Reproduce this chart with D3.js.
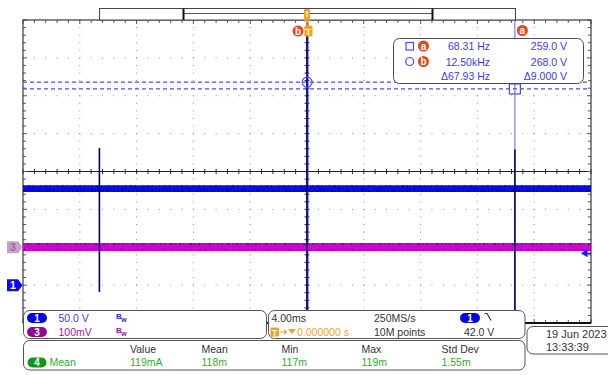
<!DOCTYPE html>
<html><head><meta charset="utf-8">
<script src="https://cdn.jsdelivr.net/npm/d3@7"></script>
<style>body{margin:0;background:#fff}svg{display:block}text{font-family:"Liberation Sans",Arial,sans-serif}</style>
</head><body><svg id="c" width="608" height="375"></svg>
<script>
// ---------------- data ----------------
const timeDomainMs = [-20, 20];          // 4.00 ms/div, 10 divisions
const ch1VoltDomain = [-50, 350];        // 50.0 V/div, ground 3 div below centre
const ch3mVDomain = [-200, 600];         // 100 mV/div, ground 2 div below centre
const ch1Times = [-20, 20];
const ch1Lo = [123, 123];
const ch1Hi = [132, 132];
const ch1SpikeTimes = [-14.62, 0.0, 14.64];
const ch1SpikeHi = [181, 340, 179];
const ch1SpikeLo = [-9, -60, -60];
const ch3Times = [-20, 20];
const ch3Lo = [-10, -10];
const ch3Hi = [11, 11];
const cursorNames = ["a", "b"];
const cursorTimes = [14.64, 0.08];
const cursorVolts = [259, 268];
const cursorFreqLabels = ["68.31 Hz", "12.50kHz", "\u039467.93 Hz"];
const cursorVoltLabels = ["259.0 V", "268.0 V", "\u03949.000 V"];
const triggerLevelV = 42.0;
const chScaleLabels = ["50.0 V", "100mV"];
const timebaseLabels = ["4.00ms", "250MS/s", "10M points", "42.0 V", "0.000000 s"];
const measHeaders = ["Value", "Mean", "Min", "Max", "Std Dev"];
const measValues = ["119mA", "118m", "117m", "119m", "1.55m"];
const dateLabels = ["19 Jun  2023", "13:33:39"];

// ---------------- layout ----------------
const svg = d3.select("#c");
const L = 23, R = 591, T = 20, B = 323;
const divX = (R - L) / 10, divY = (B - T) / 8;
const x = d3.scaleLinear().domain(timeDomainMs).range([L, R]);
const y1 = d3.scaleLinear().domain(ch1VoltDomain).range([B, T]);
const y3 = d3.scaleLinear().domain(ch3mVDomain).range([B, T]);
const BLUE_TXT = "#3b3bf0", RED = "#e8451c", ORANGE = "#f3a21f", GREEN = "#2fae2f";

// grid dots
const gDots = svg.append("g").attr("fill", "#8c8c8c");
for (let i = 1; i < 10; i++) {
  if (i === 5) continue;
  for (let k = 0; k <= 40; k++) gDots.append("rect").attr("x", L + i * divX - 0.5).attr("y", T + k * divY / 5 - 0.5).attr("width", 1).attr("height", 1);
}
for (let j = 1; j < 8; j++) {
  if (j === 4) continue;
  for (let k = 0; k <= 50; k++) gDots.append("rect").attr("x", L + k * divX / 5 - 0.5).attr("y", T + j * divY - 0.5).attr("width", 1).attr("height", 1);
}
// centre cross with ticks
const gC = svg.append("g").attr("stroke", "#222").attr("stroke-width", 1);
const cy = T + 4 * divY, cx = L + 5 * divX;
gC.append("line").attr("x1", L).attr("x2", R).attr("y1", cy).attr("y2", cy);
gC.append("line").attr("x1", cx).attr("x2", cx).attr("y1", T).attr("y2", B);
for (let k = 0; k <= 50; k++) gC.append("line").attr("x1", L + k * divX / 5).attr("x2", L + k * divX / 5).attr("y1", cy - 2.5).attr("y2", cy + 2.5);
for (let k = 0; k <= 40; k++) gC.append("line").attr("y1", T + k * divY / 5).attr("y2", T + k * divY / 5).attr("x1", cx - 2.5).attr("x2", cx + 2.5);
// border ticks
const gB = svg.append("g").attr("stroke", "#555").attr("stroke-width", 1);
for (let k = 0; k <= 50; k++) {
  const xx = L + k * divX / 5, len = k % 5 === 0 ? 4 : 3;
  gB.append("line").attr("x1", xx).attr("x2", xx).attr("y1", T).attr("y2", T + len);
  gB.append("line").attr("x1", xx).attr("x2", xx).attr("y1", B).attr("y2", B - len);
}
for (let k = 0; k <= 40; k++) {
  const yy = T + k * divY / 5, len = k % 5 === 0 ? 4 : 3;
  gB.append("line").attr("y1", yy).attr("y2", yy).attr("x1", L).attr("x2", L + len);
  gB.append("line").attr("y1", yy).attr("y2", yy).attr("x1", R).attr("x2", R - len);
}
svg.append("rect").attr("x", L).attr("y", T).attr("width", R - L).attr("height", B - T).attr("fill", "none").attr("stroke", "#3a3a3a").attr("stroke-width", 1.2);
svg.append("line").attr("x1", L).attr("x2", R).attr("y1", B).attr("y2", B).attr("stroke", "#111").attr("stroke-width", 2);

// cursor horizontal dashed lines
cursorVolts.forEach(v => {
  svg.append("line").attr("x1", L).attr("x2", R).attr("y1", y1(v)).attr("y2", y1(v))
    .attr("stroke", "#4a4aff").attr("stroke-width", 1.3).attr("stroke-dasharray", "4,3");
});
// cursor vertical lines
cursorTimes.forEach(t => {
  svg.append("line").attr("x1", x(t)).attr("x2", x(t)).attr("y1", T).attr("y2", B).attr("stroke", "#5c5cff").attr("stroke-width", 1);
});

// channel 3 trace
const idx3 = d3.range(ch3Times.length);
svg.append("path").datum(idx3).attr("fill", "#d200d2")
  .attr("d", d3.area().x(i => x(ch3Times[i])).y0(i => y3(ch3Lo[i])).y1(i => y3(ch3Hi[i])));
[ch3Lo, ch3Hi].forEach((arr, n) => {
  svg.append("path").datum(idx3).attr("fill", "none").attr("stroke", "#5a0a5a").attr("stroke-width", 1.1)
    .attr("stroke-dasharray", n ? "1,3,2,2,1,5,3,2" : "2,4,1,2,1,3,3,5")
    .attr("d", d3.line().x(i => x(ch3Times[i])).y(i => y3(arr[i]) + (n ? 1 : -1)));
});

// channel 1 trace
const idx1 = d3.range(ch1Times.length);
svg.append("path").datum(idx1).attr("fill", "#0a0aee")
  .attr("d", d3.area().x(i => x(ch1Times[i])).y0(i => y1(ch1Lo[i])).y1(i => y1(ch1Hi[i])));
[ch1Lo, ch1Hi].forEach((arr, n) => {
  svg.append("path").datum(idx1).attr("fill", "none").attr("stroke", "#00007a").attr("stroke-width", 1.2)
    .attr("stroke-dasharray", n ? "1,4,2,3,1,6" : "2,2,1,3,3,1,1,2")
    .attr("d", d3.line().x(i => x(ch1Times[i])).y(i => y1(arr[i]) + (n ? 1 : -1)));
});
svg.append("g").selectAll("line").data(d3.range(ch1SpikeTimes.length)).join("line")
  .attr("x1", i => x(ch1SpikeTimes[i])).attr("x2", i => x(ch1SpikeTimes[i]))
  .attr("y1", i => Math.max(T, y1(ch1SpikeHi[i]))).attr("y2", i => Math.min(B, y1(ch1SpikeLo[i])))
  .attr("stroke", "#00006e").attr("stroke-width", 1.6);

// cursor markers on trace
const ca = [x(cursorTimes[0]), y1(cursorVolts[0])], cb = [x(cursorTimes[1]), y1(cursorVolts[1])];
svg.append("rect").attr("x", ca[0] - 5.5).attr("y", ca[1] - 5).attr("width", 11).attr("height", 10).attr("fill", "none").attr("stroke", "#4a4aff").attr("stroke-width", 1.2);
svg.append("circle").attr("cx", cb[0] - 1).attr("cy", cb[1]).attr("r", 5).attr("fill", "none").attr("stroke", "#4a4aff").attr("stroke-width", 1.2);

// trigger level arrow (right edge)
const ty = y1(triggerLevelV);
svg.append("path").attr("d", `M${R - 9},${ty} L${R - 4},${ty - 3} L${R - 4},${ty + 3} Z M${R - 5},${ty} L${R},${ty}`)
  .attr("fill", "#1a1aff").attr("stroke", "#1a1aff").attr("stroke-width", 1.2);

// channel ground markers (left)
function chMarker(yy, fill, tcol, label) {
  svg.append("path").attr("d", `M7,${yy - 6} L18,${yy - 6} L22.5,${yy} L18,${yy + 6} L7,${yy + 6} Z`).attr("fill", fill);
  svg.append("text").attr("x", 13).attr("y", yy + 4).attr("text-anchor", "middle").attr("font-size", 10.5).attr("font-weight", "bold").attr("fill", tcol).text(label);
}
chMarker(y3(0), "#c9a0cb", "#8f7090", "3");
chMarker(y1(0), "#0a0af0", "#fff", "1");

// record overview bar
svg.append("rect").attr("x", 99.5).attr("y", 8.5).attr("width", 416).attr("height", 11.5).attr("fill", "#fff").attr("stroke", "#444").attr("stroke-width", 1);
svg.append("line").attr("x1", 183.5).attr("x2", 432.5).attr("y1", 13.5).attr("y2", 13.5).attr("stroke", "#4545d5").attr("stroke-width", 1.2);
[183.5, 432.5].forEach(xx => svg.append("line").attr("x1", xx).attr("x2", xx).attr("y1", 8.5).attr("y2", 20).attr("stroke", "#111").attr("stroke-width", 2));
const tx = x(0);
svg.append("rect").attr("x", tx - 3).attr("y", 9).attr("width", 6).attr("height", 10).attr("rx", 1).attr("fill", ORANGE);
svg.append("line").attr("x1", tx - 1.5).attr("x2", tx + 1.5).attr("y1", 12).attr("y2", 12).attr("stroke", "#fff").attr("stroke-width", 1);
svg.append("line").attr("x1", tx).attr("x2", tx).attr("y1", 12).attr("y2", 17).attr("stroke", "#fff").attr("stroke-width", 1);
svg.append("path").attr("d", `M${tx - 3},20 L${tx + 3},20 L${tx},24 Z`).attr("fill", ORANGE);
// trigger T marker on graticule
svg.append("rect").attr("x", tx - 2.5).attr("y", 25.5).attr("width", 8).attr("height", 11).attr("rx", 1.5).attr("fill", ORANGE);
svg.append("text").attr("x", tx + 1.5).attr("y", 34.5).attr("text-anchor", "middle").attr("font-size", 9.5).attr("font-weight", "bold").attr("fill", "#fff").text("T");

function badge(cx0, cy0, letter) {
  svg.append("circle").attr("cx", cx0).attr("cy", cy0).attr("r", 5.5).attr("fill", RED);
  svg.append("text").attr("x", cx0).attr("y", cy0 + 3.5).attr("text-anchor", "middle").attr("font-size", 10).attr("font-weight", "bold").attr("fill", "#fff").text(letter);
}
badge(tx - 9, 31, "b");
badge(x(cursorTimes[0]) + 7.5, 30.5, "a");

// cursor readout box
svg.append("rect").attr("x", 393.5).attr("y", 38.5).attr("width", 190).attr("height", 45).attr("rx", 6).attr("fill", "#fff").attr("stroke", "#4a4a4a").attr("stroke-width", 1);
svg.append("rect").attr("x", 406).attr("y", 42.5).attr("width", 7.5).attr("height", 7.5).attr("fill", "none").attr("stroke", "#4a4aff").attr("stroke-width", 1.2);
svg.append("circle").attr("cx", 409.7).attr("cy", 61.5).attr("r", 4).attr("fill", "none").attr("stroke", "#4a4aff").attr("stroke-width", 1.2);
badge(423.5, 46, cursorNames[0]);
badge(423.5, 61.5, cursorNames[1]);
const rowY = [50, 65.5, 79.5];
cursorFreqLabels.forEach((s, i) => svg.append("text").attr("x", 490).attr("y", rowY[i]).attr("text-anchor", "end").attr("font-size", 10.5).attr("fill", BLUE_TXT).text(s));
cursorVoltLabels.forEach((s, i) => svg.append("text").attr("x", 567).attr("y", rowY[i]).attr("text-anchor", "end").attr("font-size", 10.5).attr("fill", BLUE_TXT).text(s));

// bottom panels
function panel(px, py, w, h) {
  svg.append("rect").attr("x", px).attr("y", py).attr("width", w).attr("height", h).attr("rx", 6).attr("fill", "#fff").attr("stroke", "#555").attr("stroke-width", 1);
}
function pill(px, py, fill, label) {
  svg.append("rect").attr("x", px).attr("y", py).attr("width", 20).attr("height", 10).attr("rx", 5).attr("fill", fill);
  svg.append("text").attr("x", px + 10).attr("y", py + 8.8).attr("text-anchor", "middle").attr("font-size", 10).attr("font-weight", "bold").attr("fill", "#fff").text(label);
}
function txt(px, py, s, col, anchor) {
  return svg.append("text").attr("x", px).attr("y", py).attr("font-size", 10.5).attr("fill", col).attr("text-anchor", anchor || "start").text(s);
}
function bw(px, py, col) {
  const t = svg.append("text").attr("x", px).attr("y", py).attr("font-size", 8).attr("font-weight", "bold").attr("fill", col);
  t.append("tspan").text("B");
  t.append("tspan").attr("dx", -0.5).attr("dy", 3).attr("font-size", 7).text("w");
}
panel(23.5, 310.5, 243, 28);
pill(27, 313, "#0505e8", "1");
txt(58.5, 322, chScaleLabels[0], BLUE_TXT);
bw(116, 318.5, "#2b2bdd");
pill(27, 327, "#8e0a8e", "3");
txt(58.5, 336, chScaleLabels[1], "#a020a0");
bw(116, 332.5, "#8e1a8e");

panel(268.5, 310.5, 256.5, 28);
txt(271.5, 322, timebaseLabels[0], "#333");
txt(374, 322, timebaseLabels[1], "#333");
pill(460, 313, "#0505e8", "1");
svg.append("path").attr("d", "M484.5,313.5 L487,313.5 L491,320.5").attr("fill", "none").attr("stroke", "#333").attr("stroke-width", 1.1);
svg.append("rect").attr("x", 270.5).attr("y", 327.5).attr("width", 8.5).attr("height", 9).attr("rx", 1).attr("fill", ORANGE);
svg.append("text").attr("x", 274.7).attr("y", 335.5).attr("text-anchor", "middle").attr("font-size", 8.5).attr("font-weight", "bold").attr("fill", "#fff").text("T");
svg.append("path").attr("d", "M280,332 L286,332 M284,330 L286.5,332 L284,334").attr("fill", "none").attr("stroke", ORANGE).attr("stroke-width", 1.1);
svg.append("path").attr("d", "M288,329 L296,329 L292,334 Z").attr("fill", ORANGE);
txt(297, 336, timebaseLabels[4], ORANGE);
txt(374, 336, timebaseLabels[2], "#333");
txt(464, 336, timebaseLabels[3], "#333");

panel(23.5, 340.5, 501.5, 29.5);
svg.append("rect").attr("x", 27.5).attr("y", 357.5).attr("width", 19).attr("height", 10).attr("rx", 5).attr("fill", "#14951a");
svg.append("text").attr("x", 37).attr("y", 366.3).attr("text-anchor", "middle").attr("font-size", 10).attr("font-weight", "bold").attr("fill", "#fff").text("4");
txt(49.5, 366, "Mean", GREEN);
const measX = [130, 201.5, 281.5, 361.5, 441.5];
measHeaders.forEach((s, i) => txt(measX[i], 353, s, "#333"));
measValues.forEach((s, i) => txt(measX[i], 366, s, GREEN));

panel(527, 326.5, 95, 27.5);
svg.append("text").attr("x", 546).attr("y", 337.5).attr("font-size", 11).attr("fill", "#333").text(dateLabels[0]);
svg.append("text").attr("x", 546).attr("y", 351).attr("font-size", 11).attr("fill", "#333").text(dateLabels[1]);
</script></body></html>
